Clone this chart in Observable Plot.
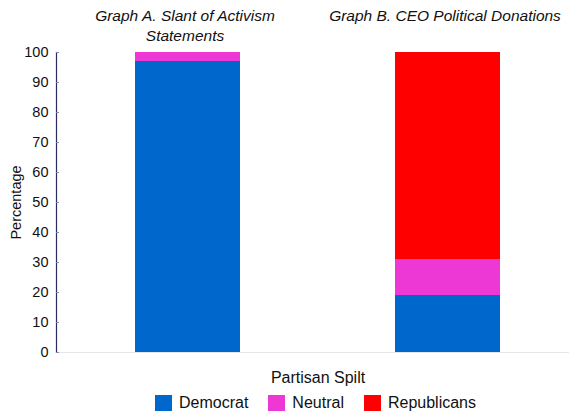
<!DOCTYPE html>
<html>
<head>
<meta charset="utf-8">
<script src="https://cdn.jsdelivr.net/npm/d3@7"></script>
<script src="https://cdn.jsdelivr.net/npm/@observablehq/plot@0.6"></script>
<style>
  html, body { margin: 0; padding: 0; background: #fff; }
  body { width: 569px; height: 414px; overflow: hidden; font-family: "Liberation Sans", Arial, sans-serif; }
  #legend { display: flex; justify-content: center; align-items: center; height: 22px; font-size: 16px; color: #111; padding-left: 62px; font-family: "Liberation Sans", Arial, sans-serif; }
  #legend .item { display: flex; align-items: center; margin: 0 10px; }
  #legend .sw { width: 17px; height: 16px; margin-right: 7px; }
</style>
</head>
<body>
<div id="chart"></div>
<div id="legend"></div>
<script>
const graphs = ["A", "B"];
const graphTitles = ["Graph A. Slant of Activism\nStatements", "Graph B. CEO Political Donations"];
const parties = ["Democrat", "Neutral", "Republicans"];
const partyColors = ["#0068cc", "#ee38d6", "#ff0000"];
const graphAValues = [97, 3, 0];
const graphBValues = [19, 12, 69];
const yTicks = [0, 10, 20, 30, 40, 50, 60, 70, 80, 90, 100];

const data = [];
parties.forEach((p, i) => {
  data.push({graph: "A", party: p, value: graphAValues[i]});
  data.push({graph: "B", party: p, value: graphBValues[i]});
});
const titles = graphs.map((g, i) => ({graph: g, title: graphTitles[i]}));

const chart = Plot.plot({
  width: 569,
  height: 392,
  marginLeft: 56,
  marginRight: 0,
  marginTop: 52,
  marginBottom: 40,
  style: {fontFamily: "'Liberation Sans', Arial, sans-serif", fontSize: "14.5px", color: "#111", background: "#fff"},
  x: {type: "band", domain: graphs, range: [56, 578], paddingInner: 0.598, paddingOuter: 0.3, align: 0.5, axis: null},
  y: {domain: [0, 100]},
  color: {domain: parties, range: partyColors},
  marks: [
    Plot.ruleY([0], {stroke: "#e6e6e6"}),
    Plot.barY(data, {x: "graph", y: "value", fill: "party", inset: 0}),
    Plot.frame({anchor: "left", stroke: "#2b2b5e", strokeWidth: 1.2}),
    Plot.axisY({ticks: yTicks, tickSize: -3, tickPadding: 11, stroke: "#8888aa", fontSize: 14.5, label: "Percentage", labelAnchor: "center", labelOffset: 46, labelArrow: "none"}),
    Plot.text(titles, {x: "graph", text: "title", frameAnchor: "top", lineAnchor: "top", dy: -45, dx: -3, fontStyle: "italic", fontSize: 15.5, lineHeight: 1.25}),
    Plot.text(["Partisan Spilt"], {frameAnchor: "bottom", lineAnchor: "middle", dy: 25, dx: 5, fontSize: 16})
  ]
});
document.getElementById("chart").appendChild(chart);

const legend = document.getElementById("legend");
parties.forEach((p, i) => {
  const item = document.createElement("div");
  item.className = "item";
  const sw = document.createElement("div");
  sw.className = "sw";
  sw.style.background = partyColors[i];
  const lab = document.createElement("span");
  lab.textContent = p;
  item.appendChild(sw);
  item.appendChild(lab);
  legend.appendChild(item);
});
</script>
</body>
</html>
